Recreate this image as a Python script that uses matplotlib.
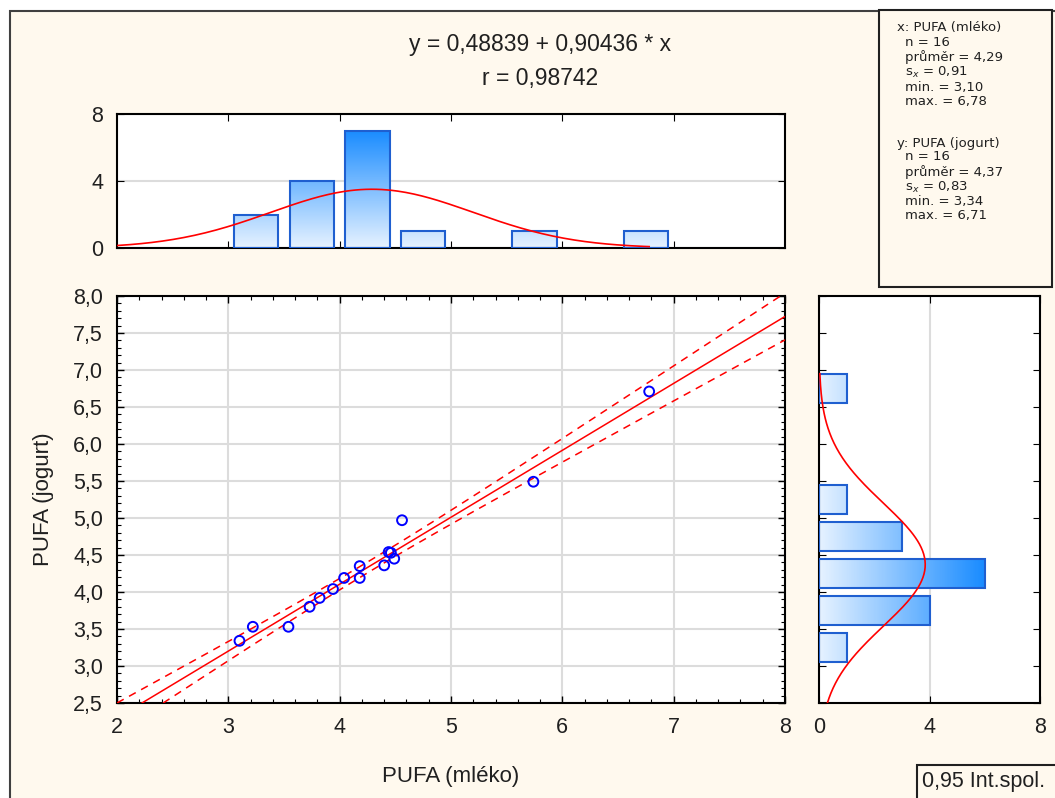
import numpy as np
import matplotlib
matplotlib.use("Agg")
import matplotlib.pyplot as plt
from matplotlib.colors import LinearSegmentedColormap
from matplotlib.patches import Rectangle
from matplotlib.ticker import MultipleLocator, FuncFormatter, FixedLocator

plt.rcParams['font.family'] = ['Liberation Sans', 'DejaVu Sans']

W, H = 1055, 798

# paired PUFA values (x = mléko, y = jogurt)
pufa_mleko = [3.10, 3.22, 3.54, 3.73, 3.82, 3.94, 4.04, 4.18, 4.18, 4.40,
              4.44, 4.46, 4.49, 4.56, 5.74, 6.78]
pufa_jogurt = [3.34, 3.53, 3.53, 3.80, 3.92, 4.04, 4.19, 4.35, 4.19, 4.36,
               4.54, 4.53, 4.45, 4.97, 5.49, 6.71]

# regression shown in the header
intercept, slope, r_value = 0.48839, 0.90436, 0.98742

# descriptive stats shown in the side box
n_obs = 16
mean_x, sd_x, min_x, max_x = 4.29, 0.91, 3.10, 6.78
mean_y, sd_y, min_y, max_y = 4.37, 0.83, 3.34, 6.71

bin_edges = np.arange(2.0, 8.01, 0.5)
bar_w = 0.4

TXT = '#202020'
CREAM = '#FFF9EE'
EDGE = '#1F5FD0'
cmap = LinearSegmentedColormap.from_list('bl', ['#E6F2FF', '#1A8CFF'])


def px_axes(fig, left, top, right, bottom):
    return fig.add_axes([left / W, 1 - bottom / H, (right - left) / W, (bottom - top) / H])


def comma(v, pos=None):
    return f"{v:.1f}".replace('.', ',')


def normal_counts(v, mean, sd):
    return n_obs * 0.5 * np.exp(-0.5 * ((v - mean) / sd) ** 2) / (sd * np.sqrt(2 * np.pi))


fig = plt.figure(figsize=(W / 100, H / 100), dpi=100, facecolor='white')

# cream panel with dark border on left/top
fig.patches.append(Rectangle((10 / W, -0.01), 1.0, (H - 11) / H + 0.01,
                             transform=fig.transFigure, facecolor=CREAM,
                             edgecolor='#404040', lw=1.5, zorder=-10))

# ---- scatter ----
ax = px_axes(fig, 117, 296, 785, 703)
ax.set_facecolor('white')
ax.set_xlim(2, 8)
ax.set_ylim(2.5, 8.0)
ax.xaxis.set_major_locator(MultipleLocator(1))
ax.yaxis.set_major_locator(MultipleLocator(0.5))
ax.xaxis.set_minor_locator(MultipleLocator(0.2))
ax.yaxis.set_minor_locator(MultipleLocator(0.1))
ax.yaxis.set_major_formatter(FuncFormatter(comma))
ax.grid(True, which='major', color='#DCDCDC', lw=1.5, zorder=0)
ax.tick_params(which='both', direction='in', top=True, right=True, colors='black',
               labelcolor=TXT, labelsize=15.5)
ax.tick_params(which='major', length=5, width=1)
ax.tick_params(which='minor', length=3, width=0.8)
ax.tick_params(axis='x', pad=10)
ax.tick_params(axis='y', pad=10)
for s in ax.spines.values():
    s.set_linewidth(1.5)

xs = np.array(pufa_mleko)
ys = np.array(pufa_jogurt)
xl = np.linspace(2, 8, 200)
yl = intercept + slope * xl
resid = ys - (intercept + slope * xs)
s_res = np.sqrt(np.sum(resid ** 2) / (n_obs - 2))
sxx = np.sum((xs - xs.mean()) ** 2)
half = 2.1448 * s_res * np.sqrt(1 / n_obs + (xl - xs.mean()) ** 2 / sxx)
ax.plot(xl, yl, color='red', lw=1.1, zorder=3)
ax.plot(xl, yl + half, color='red', lw=1.1, ls=(0, (5, 4)), zorder=3)
ax.plot(xl, yl - half, color='red', lw=1.1, ls=(0, (5, 4)), zorder=3)
ax.scatter(xs, ys, s=50, facecolors='none', edgecolors='#0000FF', linewidths=1.4, zorder=4)
ax.set_xlabel('PUFA (mléko)', fontsize=16, color=TXT, labelpad=20)
ax.set_ylabel('PUFA (jogurt)', fontsize=16, color=TXT, labelpad=14)

# ---- top histogram ----
axt = px_axes(fig, 117, 114, 785, 248)
axt.set_facecolor('white')
cx, _ = np.histogram(xs, bins=bin_edges)
for left, c in zip(bin_edges[:-1], cx):
    if c == 0:
        continue
    x0 = left + (0.5 - bar_w) / 2
    grad = np.linspace(0, c, 100).reshape(-1, 1)
    axt.imshow(grad, extent=(x0, x0 + bar_w, 0, c), origin='lower', cmap=cmap,
               vmin=0, vmax=cx.max(), aspect='auto', zorder=2)
    axt.add_patch(Rectangle((x0, 0), bar_w, c, facecolor='none', edgecolor=EDGE, lw=1.5, zorder=3))
xc = np.linspace(2, max_x, 200)
axt.plot(xc, normal_counts(xc, mean_x, sd_x), color='red', lw=1.2, zorder=4)
axt.set_xlim(2, 8)
axt.set_ylim(0, 8)
axt.xaxis.set_major_locator(FixedLocator([3, 4, 5, 6, 7]))
axt.set_yticks([0, 4, 8])
axt.set_xticklabels([])
axt.grid(True, axis='y', color='#DCDCDC', lw=1.5, zorder=0)
axt.tick_params(direction='in', top=True, right=True, length=5, labelcolor=TXT,
                labelsize=15.5, pad=10)
for s in axt.spines.values():
    s.set_linewidth(1.5)

# ---- right histogram ----
axr = px_axes(fig, 819, 296, 1040, 703)
axr.set_facecolor('white')
cy, _ = np.histogram(ys, bins=bin_edges)
for low, c in zip(bin_edges[:-1], cy):
    if c == 0:
        continue
    y0 = low + (0.5 - bar_w) / 2
    grad = np.linspace(0, c, 100).reshape(1, -1)
    axr.imshow(grad, extent=(0, c, y0, y0 + bar_w), origin='lower', cmap=cmap,
               vmin=0, vmax=cy.max(), aspect='auto', zorder=2)
    axr.add_patch(Rectangle((0, y0), c, bar_w, facecolor='none', edgecolor=EDGE, lw=1.5, zorder=3))
yc = np.linspace(2.5, 6.95, 200)
axr.plot(normal_counts(yc, mean_y, sd_y), yc, color='red', lw=1.2, zorder=4)
axr.set_xlim(0, 8)
axr.set_ylim(2.5, 8.0)
axr.set_xticks([0, 4, 8])
axr.yaxis.set_major_locator(MultipleLocator(0.5))
axr.set_yticklabels([])
axr.grid(True, axis='x', color='#DCDCDC', lw=1.5, zorder=0)
axr.tick_params(direction='in', top=True, right=True, length=5, labelcolor=TXT,
                labelsize=15.5, pad=10)
for s in axr.spines.values():
    s.set_linewidth(1.5)

# ---- header text ----
eq = f"y = {intercept:.5f} + {slope:.5f} * x".replace('.', ',')
fig.text(540 / W, 1 - 44 / H, eq, ha='center', va='center', fontsize=16.5, color=TXT)
fig.text(540 / W, 1 - 78 / H, f"r = {r_value:.5f}".replace('.', ','), ha='center',
         va='center', fontsize=16.5, color=TXT)

# ---- stats box ----
fig.patches.append(Rectangle((879 / W, 1 - 287 / H), (1052 - 879) / W, (287 - 10) / H,
                             transform=fig.transFigure, facecolor=CREAM,
                             edgecolor='#202020', lw=1.5, zorder=-5))


def fmt(v):
    return f"{v:.2f}".replace('.', ',')


blocks = [
    ('x: PUFA (mléko)', mean_x, sd_x, min_x, max_x, 28),
    ('y: PUFA (jogurt)', mean_y, sd_y, min_y, max_y, 143),
]
for head, m, sd, mn, mx, top in blocks:
    lines = [f"n = {n_obs}", f"průměr = {fmt(m)}", f"s$_x$ = {fmt(sd)}",
             f"min. = {fmt(mn)}", f"max. = {fmt(mx)}"]
    fig.text(897 / W, 1 - top / H, head, ha='left', va='center', fontsize=9.5,
             color=TXT, family='DejaVu Sans')
    offs = [14, 29, 44, 59, 73]
    for ln, o in zip(lines, offs):
        fig.text(905 / W, 1 - (top + o) / H, ln, ha='left', va='center', fontsize=9.5,
                 color=TXT, family='DejaVu Sans')

# ---- legend box ----
fig.patches.append(Rectangle((917 / W, -0.02), 0.2, (798 - 765) / H + 0.02,
                             transform=fig.transFigure, facecolor=CREAM,
                             edgecolor='#202020', lw=1.5, zorder=-5))
fig.text(922 / W, 1 - 782 / H, '0,95 Int.spol.', ha='left', va='center', fontsize=15.5,
         color=TXT)

fig.savefig('out.png', dpi=100, facecolor=fig.get_facecolor())
